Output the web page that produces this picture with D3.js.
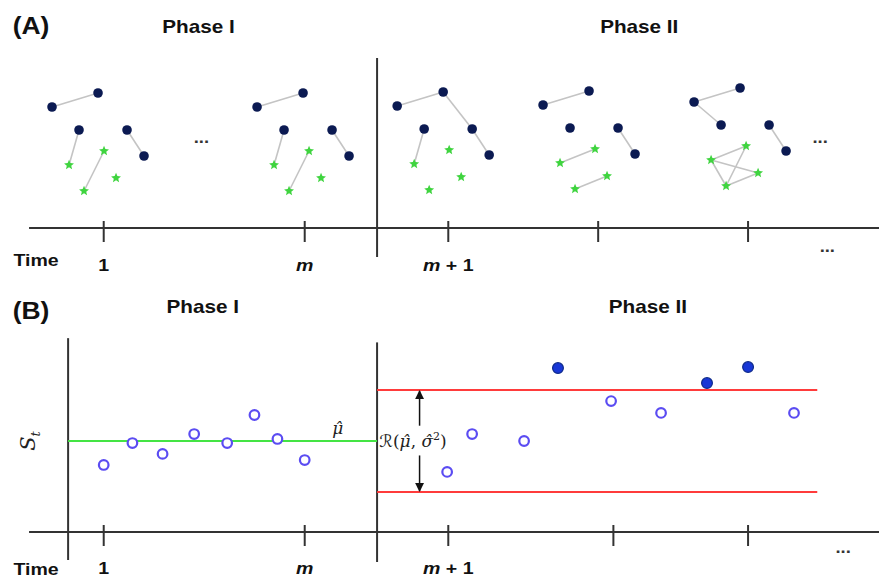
<!DOCTYPE html>
<html><head><meta charset="utf-8">
<script src="https://cdn.jsdelivr.net/npm/d3@7/dist/d3.min.js"></script>
<style>body{margin:0;background:#fff}svg{display:block}</style>
</head><body>
<script>
// ---------------- DATA ----------------
// shared time scale units (t = 1 is the first snapshot, t = 8 is "m")
const ticksA = [1, 8, 13, 18.22, 23.44];
const ticksB = [1, 8, 13, 18.75, 23.44];
const tickLabels = ["1", "m", "m + 1", "", ""];

// Panel A: network snapshots (anchor time of first node, and vertical drift)
const snapTimes = [-0.8, 6.34, 11.22, 16.3, 21.56];
const snapDrift = [0, 0, 1, 2, 5];
// node layout (local units, up positive); type: dot / star
const nodeNames = ["D0", "D1", "D2", "D3", "D4", "S0", "S1", "S2", "S3"];
const nodeTypes = ["dot", "dot", "dot", "dot", "dot", "star", "star", "star", "star"];
const nodeU = [0, 46, 27, 75, 92, 17, 52, 64, 32];
const nodeV = [0, 14, -23, -23, -49, -58, -44, -71, -84];
const snapEdges = [
  [["D0","D1"],["D3","D4"],["D2","S0"],["S1","S3"]],
  [["D0","D1"],["D3","D4"],["D2","S0"],["S1","S3"]],
  [["D0","D1"],["D1","D3"],["D3","D4"],["D2","S0"]],
  [["D0","D1"],["D3","D4"],["S0","S1"],["S3","S2"]],
  [["D0","D1"],["D0","D2"],["D3","D4"],["S0","S1"],["S0","S2"],["S0","S3"],["S1","S3"],["S3","S2"]]
];

// Panel B: monitoring statistic S_t
const phase1T = [1, 2, 3.05, 4.15, 5.3, 6.25, 7.05, 8];
const phase1S = [-1.41, -0.12, -0.76, 0.41, -0.12, 1.53, 0.12, -1.12];
const phase2T = [12.96, 13.83, 15.64, 16.82, 18.67, 20.41, 22.01, 23.44, 25.04];
const phase2S = [-1.82, 0.41, 0, 4.29, 2.35, 1.65, 3.41, 4.35, 1.65];
const muHat = 0;
const ucl = 3, lcl = -3;
const changeT = 10.52;   // boundary between phases
const phaseEndT = 25.85;

// ---------------- DRAW ----------------
const W = 879, H = 579;
const svg = d3.select("body").append("svg").attr("width", W).attr("height", H);

const x = d3.scaleLinear().domain([0, 28]).range([75, 879]);
const localX = d3.scaleLinear().domain([0, 1]).range([0, 1]);
const yA = d3.scaleLinear().domain([0, 100]).range([107, 7]);
const yB = d3.scaleLinear().domain([0, 6]).range([441, 339]);

const sans = "'Liberation Sans', Arial, Helvetica, sans-serif";
const serif = "'DejaVu Serif', 'Liberation Serif', serif";
const axisCol = "#333";
const stretch = 1.15;

function label(g, tx, ty, txt, opts = {}) {
  const t = g.append("text")
    .attr("transform", `translate(${tx},${ty}) scale(${opts.sx || stretch},1)`)
    .attr("text-anchor", opts.anchor || "middle")
    .attr("font-family", opts.family || sans)
    .attr("font-weight", opts.weight || "bold")
    .attr("font-size", opts.size || 16)
    .attr("fill", opts.fill || "#111");
  if (opts.italic) t.attr("font-style", "italic");
  t.text(txt);
  return t;
}
function tickLabel(g, tx, ty, txt) {
  const t = g.append("text")
    .attr("transform", `translate(${tx},${ty}) scale(${stretch},1)`)
    .attr("text-anchor", "middle").attr("font-family", sans)
    .attr("font-weight", "bold").attr("font-size", 17).attr("fill", "#111");
  if (txt.startsWith("m")) {
    t.append("tspan").attr("font-style", "italic").text("m");
    t.append("tspan").text(txt.slice(1));
  } else t.text(txt);
}
function starPath(r) {
  const pts = [];
  for (let i = 0; i < 10; i++) {
    const a = -Math.PI / 2 + i * Math.PI / 5;
    const rr = i % 2 === 0 ? r : r * 0.45;
    pts.push([rr * Math.cos(a), rr * Math.sin(a)]);
  }
  return d3.line()(pts) + "Z";
}

// ===== Panel A =====
const gA = svg.append("g");
label(gA, 31, 34, "(A)", { size: 23 });
label(gA, x(4.3), 33, "Phase I", { size: 18 });
label(gA, x(19.65), 33, "Phase II", { size: 18 });

// axis
gA.append("line").attr("x1", x(-1.6)).attr("x2", x(28)).attr("y1", 228).attr("y2", 228)
  .attr("stroke", axisCol).attr("stroke-width", 2);
gA.append("line").attr("x1", x(changeT)).attr("x2", x(changeT)).attr("y1", 58).attr("y2", 257)
  .attr("stroke", axisCol).attr("stroke-width", 2);
gA.selectAll("line.tick").data(ticksA).enter().append("line")
  .attr("x1", d => x(d)).attr("x2", d => x(d)).attr("y1", 221).attr("y2", 242)
  .attr("stroke", axisCol).attr("stroke-width", 2);
label(gA, 36, 266, "Time", { size: 17 });
ticksA.forEach((t, i) => { if (tickLabels[i]) tickLabel(gA, x(t), 271, tickLabels[i]); });
label(gA, x(4.4), 143, "...", { size: 16, fill: "#333" });
label(gA, x(25.95), 143, "...", { size: 16, fill: "#333" });
label(gA, x(26.2), 252, "...", { size: 16, fill: "#333" });

const nodeIndex = {};
nodeNames.forEach((n, i) => nodeIndex[n] = i);
snapTimes.forEach((st, s) => {
  const g = gA.append("g");
  const px = i => x(st) + localX(nodeU[i]);
  const py = i => yA(nodeV[i] + snapDrift[s]);
  g.selectAll("line").data(snapEdges[s]).enter().append("line")
    .attr("x1", e => px(nodeIndex[e[0]])).attr("y1", e => py(nodeIndex[e[0]]))
    .attr("x2", e => px(nodeIndex[e[1]])).attr("y2", e => py(nodeIndex[e[1]]))
    .attr("stroke", "#c4c4c4").attr("stroke-width", 1.6);
  nodeNames.forEach((n, i) => {
    if (nodeTypes[i] === "dot") {
      g.append("circle").attr("cx", px(i)).attr("cy", py(i)).attr("r", 4.8).attr("fill", "#0b1a52");
    } else {
      g.append("path").attr("d", starPath(5.2)).attr("transform", `translate(${px(i)},${py(i)})`)
        .attr("fill", "#3fd43f");
    }
  });
});

// ===== Panel B =====
const gB = svg.append("g");
label(gB, 31, 319, "(B)", { size: 23 });
label(gB, x(4.45), 313, "Phase I", { size: 18 });
label(gB, x(19.95), 313, "Phase II", { size: 18 });

const yAxisB = 532;
gB.append("line").attr("x1", x(-1.6)).attr("x2", x(28)).attr("y1", yAxisB).attr("y2", yAxisB)
  .attr("stroke", axisCol).attr("stroke-width", 2);
gB.append("line").attr("x1", x(-0.24)).attr("x2", x(-0.24)).attr("y1", yB(6.05)).attr("y2", 560)
  .attr("stroke", axisCol).attr("stroke-width", 2);
gB.append("line").attr("x1", x(changeT)).attr("x2", x(changeT)).attr("y1", yB(5.8)).attr("y2", 562)
  .attr("stroke", axisCol).attr("stroke-width", 2);
gB.selectAll("line.tick").data(ticksB).enter().append("line")
  .attr("x1", d => x(d)).attr("x2", d => x(d)).attr("y1", 525).attr("y2", 546)
  .attr("stroke", axisCol).attr("stroke-width", 2);
label(gB, 36, 575, "Time", { size: 17 });
ticksB.forEach((t, i) => { if (tickLabels[i]) tickLabel(gB, x(t), 574, tickLabels[i]); });
label(gB, x(26.75), 553, "...", { size: 16, fill: "#333" });

// mean line
gB.append("line").attr("x1", x(-0.24)).attr("x2", x(changeT)).attr("y1", yB(muHat)).attr("y2", yB(muHat))
  .attr("stroke", "#44e444").attr("stroke-width", 2);
// mu hat label
gB.append("text").attr("x", x(9.15)).attr("y", yB(muHat) - 7).attr("text-anchor", "middle")
  .attr("font-family", serif).attr("font-style", "italic")
  .attr("font-size", 17).attr("fill", "#222").text("μ\u0302");
// S_t label
const st = gB.append("text").attr("transform", `translate(35,${yB(muHat)}) rotate(-90)`)
  .attr("text-anchor", "middle").attr("font-family", serif).attr("font-style", "italic")
  .attr("font-size", 21).attr("fill", "#222");
st.append("tspan").text("S");
st.append("tspan").attr("font-size", 13).attr("dy", 5).text("t");

// control limits
[ucl, lcl].forEach(v => {
  gB.append("line").attr("x1", x(changeT)).attr("x2", x(phaseEndT)).attr("y1", yB(v)).attr("y2", yB(v))
    .attr("stroke", "#ff3b3b").attr("stroke-width", 2);
});
// arrows
const defs = svg.append("defs");
defs.append("marker").attr("id", "ah").attr("viewBox", "0 0 10 10").attr("refX", 9).attr("refY", 5)
  .attr("markerWidth", 6).attr("markerHeight", 6).attr("orient", "auto-start-reverse")
  .append("path").attr("d", "M0,0 L10,5 L0,10 Z").attr("fill", "#111");
const arrowX = x(12.0);
gB.append("line").attr("x1", arrowX).attr("x2", arrowX).attr("y1", yB(0.9)).attr("y2", yB(ucl) + 1)
  .attr("stroke", "#111").attr("stroke-width", 1.5).attr("marker-end", "url(#ah)");
gB.append("line").attr("x1", arrowX).attr("x2", arrowX).attr("y1", yB(-0.85)).attr("y2", yB(lcl) - 1)
  .attr("stroke", "#111").attr("stroke-width", 1.5).attr("marker-end", "url(#ah)");
const rl = gB.append("text").attr("x", x(10.6)).attr("y", yB(muHat) + 6)
  .attr("font-family", serif).attr("font-size", 17).attr("fill", "#222");
rl.append("tspan").attr("font-family", "'DejaVu Sans', sans-serif").attr("font-style", "italic").text("\u211B");
rl.append("tspan").text("(");
rl.append("tspan").attr("font-style", "italic").text("μ\u0302");
rl.append("tspan").text(", ");
rl.append("tspan").attr("font-style", "italic").text("σ\u0302");
rl.append("tspan").attr("font-size", 11).attr("dy", -7).text("2");
rl.append("tspan").attr("dy", 7).text(")");

// points
const openCol = "#5b4cf2";
const pts1 = phase1T.map((t, i) => ({ t, s: phase1S[i] }));
const pts2 = phase2T.map((t, i) => ({ t, s: phase2S[i] }));
gB.selectAll("circle.p1").data(pts1).enter().append("circle")
  .attr("cx", d => x(d.t)).attr("cy", d => yB(d.s)).attr("r", 4.8)
  .attr("fill", "#fff").attr("stroke", openCol).attr("stroke-width", 2.2);
gB.selectAll("circle.p2").data(pts2).enter().append("circle")
  .attr("cx", d => x(d.t)).attr("cy", d => yB(d.s)).attr("r", d => d.s > ucl ? 5.4 : 4.8)
  .attr("fill", d => d.s > ucl ? "#1837d6" : "#fff")
  .attr("stroke", d => d.s > ucl ? "#0e2a8a" : openCol)
  .attr("stroke-width", d => d.s > ucl ? 1.2 : 2.2);
</script>
</body></html>
